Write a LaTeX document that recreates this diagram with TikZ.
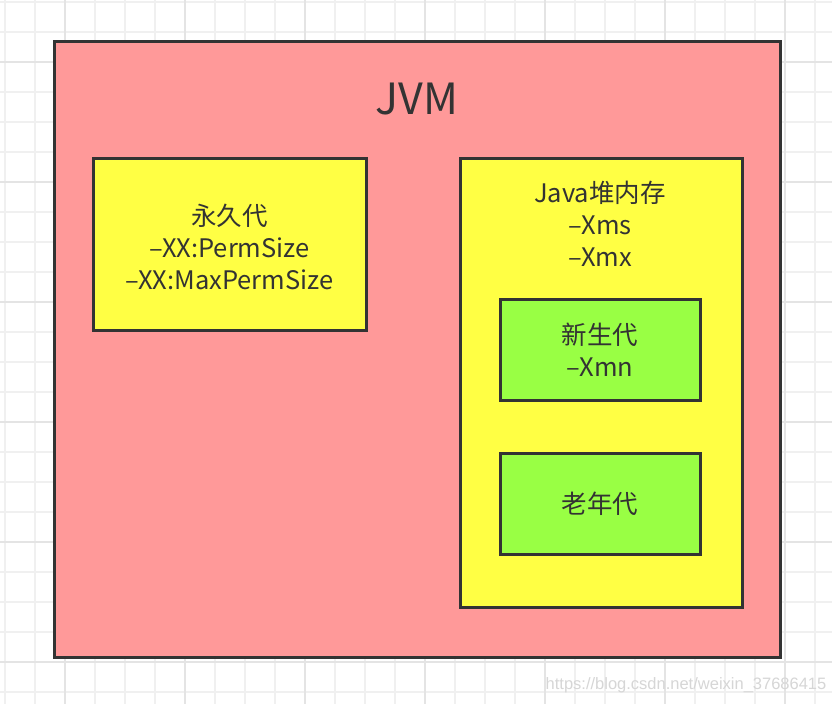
\documentclass[tikz,border=0pt]{standalone}
\usepackage{fontspec}
\setmainfont{Noto Sans CJK SC}
\newfontfamily\markfont{Liberation Sans}
\usepackage{tikz}

\definecolor{boxline}{HTML}{333333}
\definecolor{jvmpink}{HTML}{FF9999}
\definecolor{memyellow}{HTML}{FFFF44}
\definecolor{gengreen}{HTML}{99FF44}
\definecolor{gridlight}{HTML}{F0F0F0}
\definecolor{griddark}{HTML}{E4E4E4}
\definecolor{marktext}{HTML}{D6D6D6}

\tikzset{
  box/.style={draw=boxline, line width=3pt, inner sep=0pt, outer sep=0pt, anchor=north west},
  txt/.style={text=boxline, font=\fontsize{25.5}{32}\selectfont, align=center, inner sep=0pt}
}

\begin{document}
\begin{tikzpicture}[x=1pt,y=-1pt]
\useasboundingbox[fill=white] (0,0) rectangle (832,704);
% background grid
\foreach \x in {5,35,...,815} \draw[gridlight, line width=1.5pt] (\x,0) -- (\x,704);
\foreach \y in {2,32,...,692} \draw[gridlight, line width=1.5pt] (0,\y) -- (832,\y);
\foreach \x in {65,185,...,785} \draw[griddark, line width=1.5pt] (\x,0) -- (\x,704);
\foreach \y in {62,182,...,662} \draw[griddark, line width=1.5pt] (0,\y) -- (832,\y);

% JVM
\node[box, fill=jvmpink, minimum width=726pt, minimum height=616pt] (jvm) at (54,41) {};
\node[txt, font=\fontsize{43}{44}\selectfont] (jvmtitle) at (417,99) {JVM};

% permanent generation
\node[box, fill=memyellow, minimum width=273pt, minimum height=172pt] (perm) at (93,158) {};
\node[txt, yshift=-3pt] (permtext) at (perm.center) {永久代\\–XX:PermSize\\–XX:MaxPermSize};

% heap
\node[box, fill=memyellow, minimum width=282pt, minimum height=449pt] (heap) at (460,158) {};
\node[txt] (heaptext) at (600,224) {Java堆内存\\–Xms\\–Xmx};

\node[box, fill=gengreen, minimum width=200pt, minimum height=101pt] (young) at (500,299) {};
\node[txt] (youngtext) at (young.center) {新生代\\–Xmn};

\node[box, fill=gengreen, minimum width=200pt, minimum height=101pt] (old) at (500,453) {};
\node[txt] (oldtext) at (old.center) {老年代};

\node[text=marktext, font=\markfont\fontsize{16.5}{18}\selectfont, inner sep=0pt] (mark) at (686,685) {https://blog.csdn.net/weixin\_37686415};
\end{tikzpicture}
\end{document}
